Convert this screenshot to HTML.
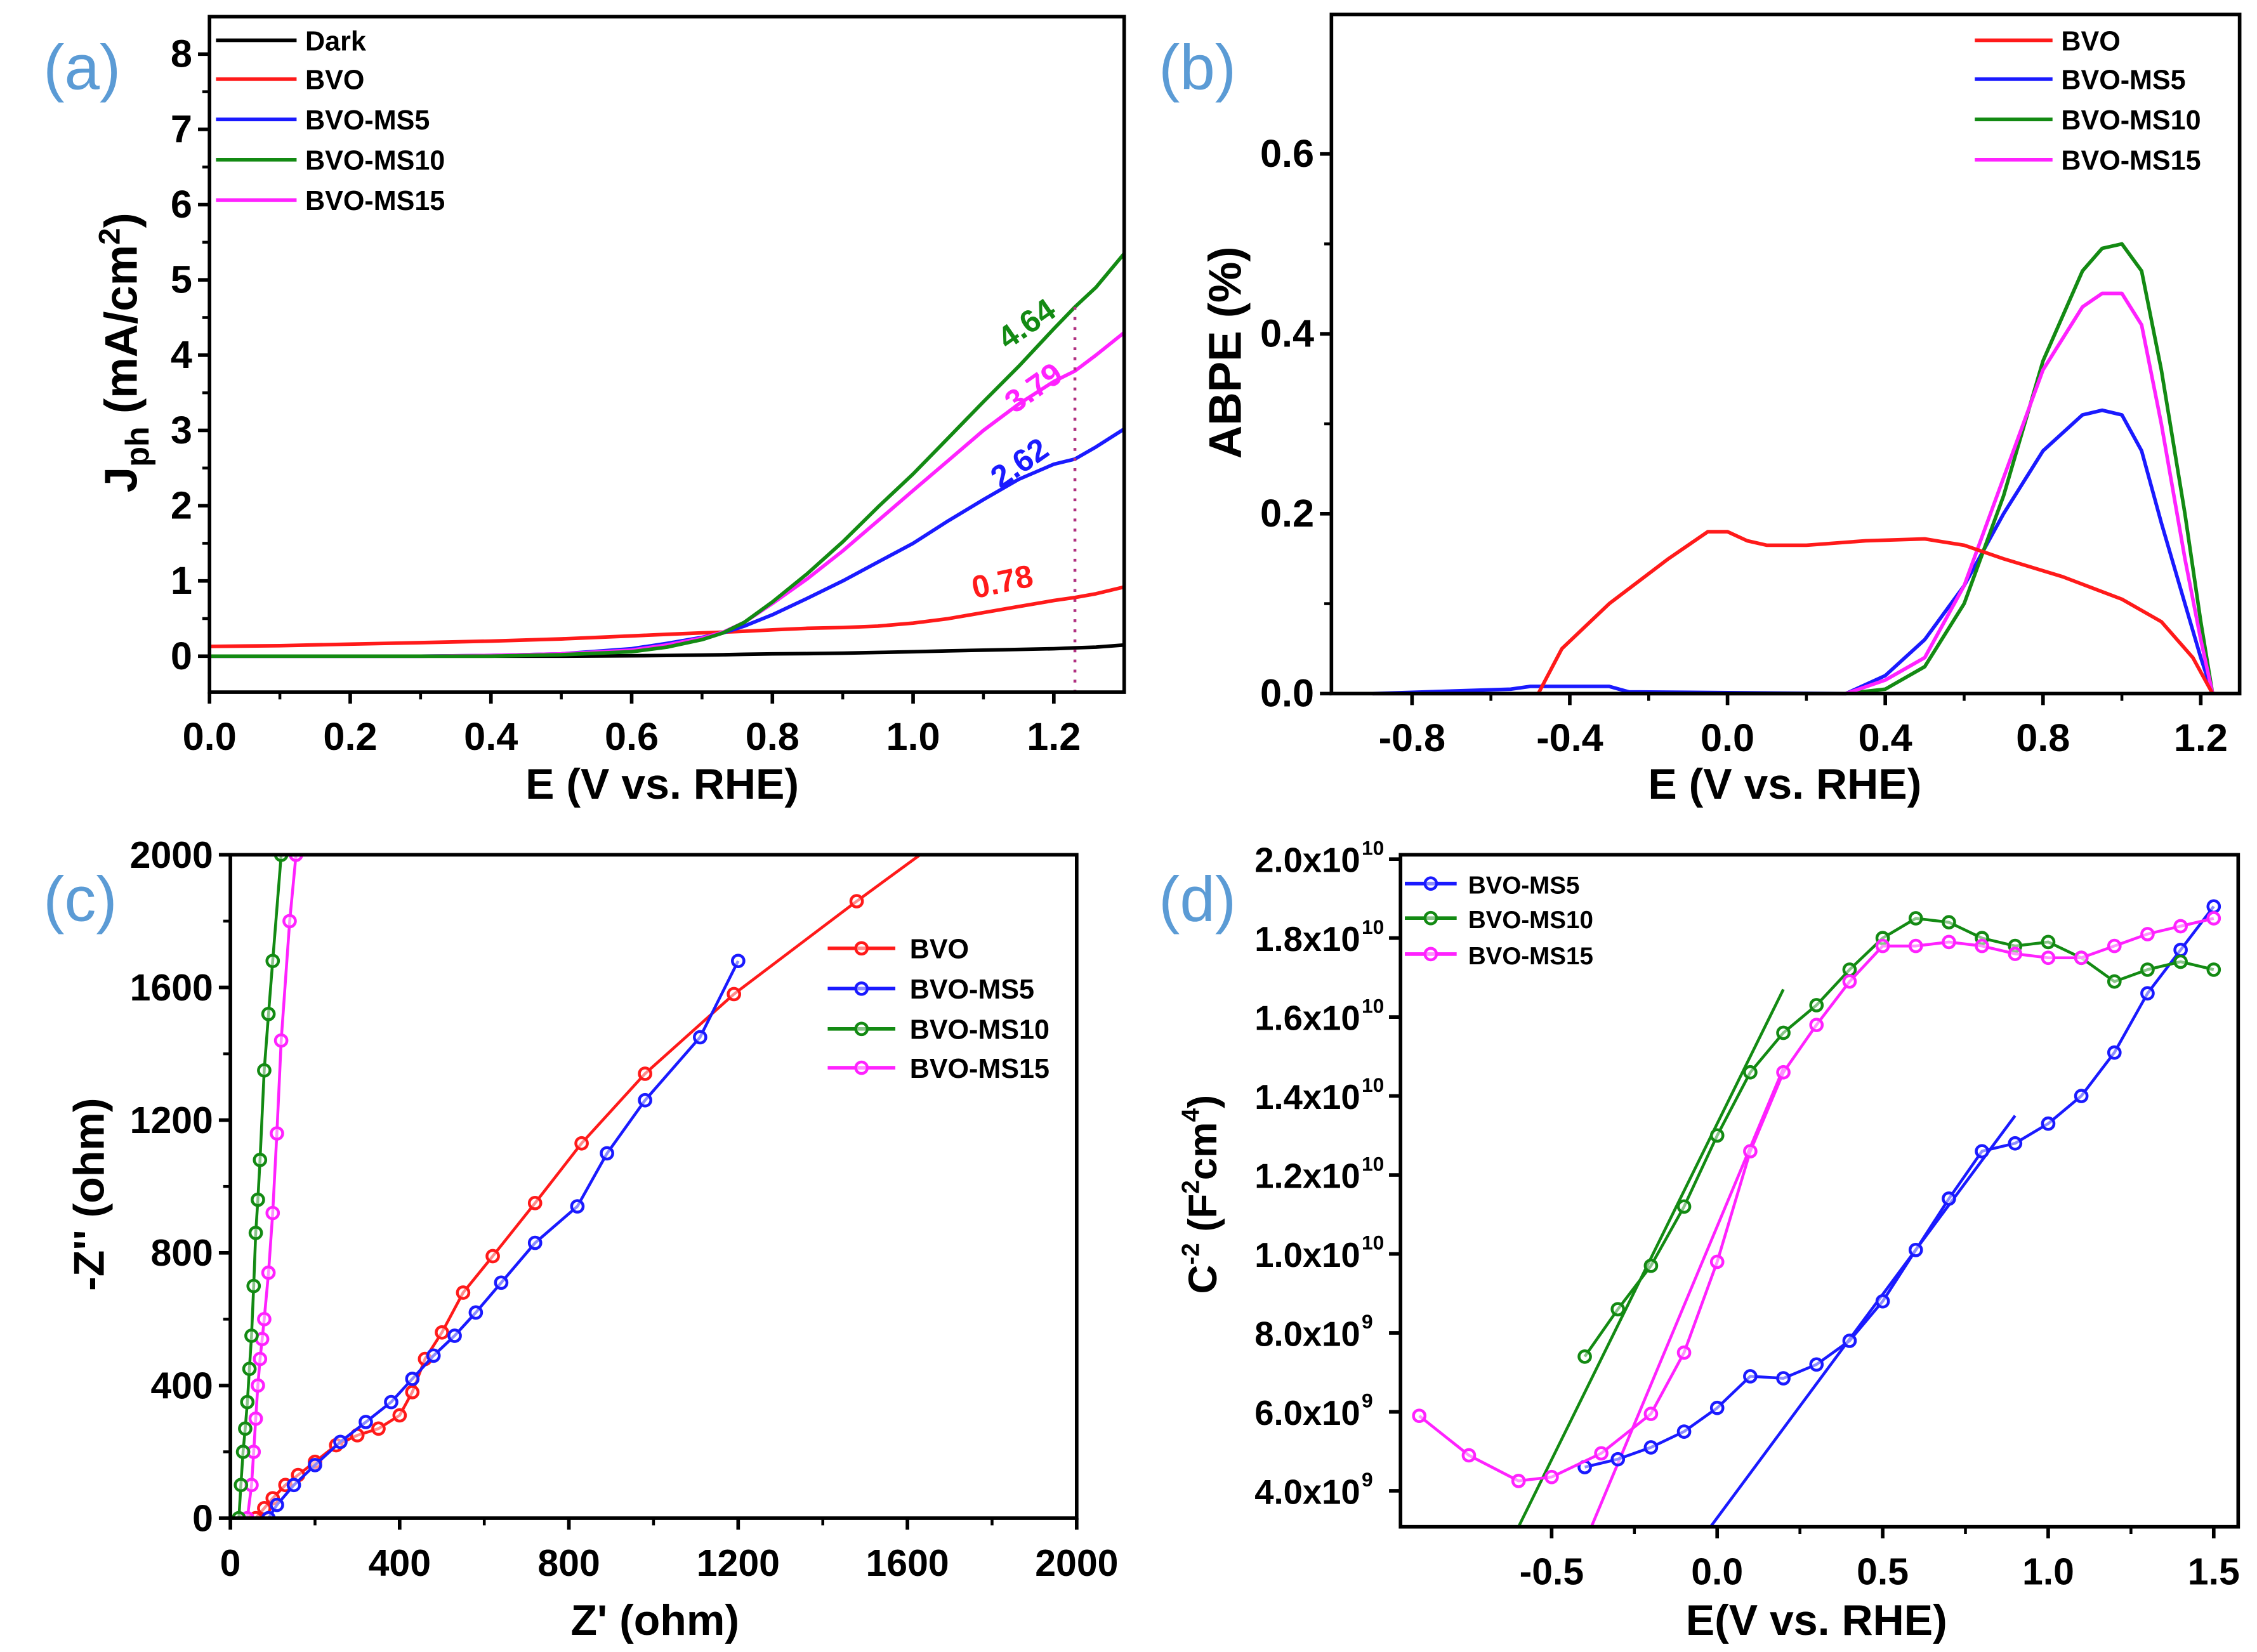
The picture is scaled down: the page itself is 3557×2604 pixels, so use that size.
<!DOCTYPE html>
<html><head><meta charset="utf-8"><style>
html,body{margin:0;padding:0;background:#fff}
svg{display:block}
text{font-family:"Liberation Sans",Arial,sans-serif;font-weight:bold}
</style></head><body>
<svg id="fig" width="3557" height="2604" viewBox="0 0 1568 1148" xmlns="http://www.w3.org/2000/svg"></svg>
<script>
// ---------- Panel (a) data ----------
const aX = [0,0.1,0.2,0.3,0.4,0.5,0.6,0.65,0.7,0.73,0.76,0.8,0.85,0.9,0.95,1.0,1.05,1.1,1.15,1.2,1.23,1.26,1.3];
const aDark = [0,0,0,0,0,0,0.005,0.01,0.015,0.02,0.025,0.03,0.035,0.04,0.05,0.06,0.07,0.08,0.09,0.1,0.11,0.12,0.15];
const aBVO = [0.13,0.14,0.16,0.18,0.2,0.23,0.27,0.29,0.31,0.32,0.33,0.35,0.37,0.38,0.4,0.44,0.5,0.58,0.66,0.74,0.78,0.83,0.92];
const aMS5 = [0,0,0,0,0.01,0.03,0.1,0.17,0.25,0.31,0.4,0.55,0.77,1.0,1.25,1.5,1.8,2.08,2.35,2.55,2.62,2.78,3.02];
const aMS10 = [0,0,0,0,0,0.02,0.06,0.12,0.22,0.31,0.45,0.72,1.1,1.52,1.98,2.42,2.9,3.38,3.85,4.35,4.64,4.9,5.35];
const aMS15 = [0,0,0,0,0.01,0.03,0.08,0.15,0.24,0.32,0.45,0.7,1.03,1.4,1.8,2.2,2.6,3.0,3.35,3.65,3.79,4.0,4.3];
const aYTicks = [0,1,2,3,4,5,6,7,8];
const aXTicks = [0,0.2,0.4,0.6,0.8,1.0,1.2];
// ---------- Panel (b) data ----------
const bBVOx = [-0.48,-0.42,-0.3,-0.15,-0.05,0,0.05,0.1,0.2,0.35,0.5,0.6,0.7,0.85,1.0,1.1,1.18,1.23];
const bBVOy = [0,0.05,0.1,0.15,0.18,0.18,0.17,0.165,0.165,0.17,0.172,0.165,0.15,0.13,0.105,0.08,0.04,0];
const bX = [-0.9,-0.55,-0.5,-0.3,-0.25,0.3,0.4,0.5,0.6,0.7,0.8,0.9,0.95,1.0,1.05,1.1,1.16,1.2,1.23];
const bMS5 = [0,0.005,0.008,0.008,0.002,0,0.02,0.06,0.12,0.2,0.27,0.31,0.315,0.31,0.27,0.19,0.1,0.04,0];
const bMS10 = [0,0,0,0,0,0,0.005,0.03,0.1,0.22,0.37,0.47,0.495,0.5,0.47,0.36,0.2,0.08,0];
const bMS15 = [0,0,0,0,0,0,0.015,0.04,0.12,0.24,0.36,0.43,0.445,0.445,0.41,0.3,0.15,0.06,0];
const bYTicks = [0,0.2,0.4,0.6];
const bXTicks = [-0.8,-0.4,0,0.4,0.8,1.2];
// ---------- Panel (c) data ----------
const cBVOx = [60,80,100,130,160,200,250,300,350,400,430,460,500,550,620,720,830,980,1190,1480];
const cBVOy = [0,30,60,100,130,170,220,250,270,310,380,480,560,680,790,950,1130,1340,1580,1860];
const cMS5x = [90,110,150,200,260,320,380,430,480,530,580,640,720,820,890,980,1110,1200];
const cMS5y = [0,40,100,160,230,290,350,420,490,550,620,710,830,940,1100,1260,1450,1680];
const cMS10x = [20,25,30,35,40,45,50,55,60,65,70,80,90,100,120];
const cMS10y = [0,100,200,270,350,450,550,700,860,960,1080,1350,1520,1680,2000];
const cMS15x = [40,50,55,60,65,70,75,80,90,100,110,120,140,155];
const cMS15y = [0,100,200,300,400,480,540,600,740,920,1160,1440,1800,2000];
const cTicks = [0,400,800,1200,1600,2000];
// ---------- Panel (d) data (y in 1e9) ----------
const dMS5x = [-0.4,-0.3,-0.2,-0.1,0,0.1,0.2,0.3,0.4,0.5,0.6,0.7,0.8,0.9,1.0,1.1,1.2,1.3,1.4,1.5];
const dMS5y = [4.6,4.8,5.1,5.5,6.1,6.9,6.85,7.2,7.8,8.8,10.1,11.4,12.6,12.8,13.3,14.0,15.1,16.6,17.7,18.8];
const dMS10x = [-0.4,-0.3,-0.2,-0.1,0,0.1,0.2,0.3,0.4,0.5,0.6,0.7,0.8,0.9,1.0,1.1,1.2,1.3,1.4,1.5];
const dMS10y = [7.4,8.6,9.7,11.2,13.0,14.6,15.6,16.3,17.2,18.0,18.5,18.4,18.0,17.8,17.9,17.5,16.9,17.2,17.4,17.2];
const dMS15x = [-0.9,-0.75,-0.6,-0.5,-0.35,-0.2,-0.1,0,0.1,0.2,0.3,0.4,0.5,0.6,0.7,0.8,0.9,1.0,1.1,1.2,1.3,1.4,1.5];
const dMS15y = [5.9,4.9,4.25,4.35,4.95,5.95,7.5,9.8,12.6,14.6,15.8,16.9,17.8,17.8,17.9,17.8,17.6,17.5,17.5,17.8,18.1,18.3,18.5];
const dFit10 = [[-0.6,3.09],[0.2,16.7]];
const dFit15 = [[-0.38,3.09],[0.2,14.7]];
const dFit5 = [[-0.02,3.09],[0.9,13.5]];
const dYTicks = [4,6,8,10,12,14,16,18,20];
const dYLabels = ["4.0x10","6.0x10","8.0x10","1.0x10","1.2x10","1.4x10","1.6x10","1.8x10","2.0x10"];
const dYExp = ["9","9","9","10","10","10","10","10","10"];
const dXTicks = [-0.5,0,0.5,1.0,1.5];

const NS = "http://www.w3.org/2000/svg";
const svg = document.getElementById('fig');
function el(tag, attrs, parent, txt){
  const e = document.createElementNS(NS, tag);
  for (const k in attrs) e.setAttribute(k, attrs[k]);
  if (txt !== undefined) e.textContent = txt;
  (parent || svg).appendChild(e);
  return e;
}
function scale(d0,d1,r0,r1){ return v => r0 + (v-d0)/(d1-d0)*(r1-r0); }
const RED="#ff1a1a", BLUE="#1a1aff", GREEN="#138a13", MAG="#ff22ff", DARK="#000";

function frame(g, L,T,R,B){
  const f = el('rect',{x:L,y:T,width:R-L,height:B-T,fill:'none',stroke:'#000','stroke-width':2.5},g);
  
  
}
function line(g, xs, ys, X, Y, color, w, name){
  const d = xs.map((x,i)=>(i?'L':'M')+X(x).toFixed(1)+' '+Y(ys[i]).toFixed(1)).join(' ');
  const p = el('path',{d:d,fill:'none',stroke:color,'stroke-width':w||2.5,'stroke-linejoin':'round'},g);
  
  
  return p;
}
function markers(g, xs, ys, X, Y, color, name){
  xs.forEach((x,i)=>{
    const c = el('circle',{cx:X(x),cy:Y(ys[i]),r:4,fill:'#fff','fill-opacity':0.5,stroke:color,'stroke-width':2},g);
    
    
  });
}
function panelLabel(txt,x,y){
  const t = el('text',{x:x,y:y,'font-size':44,fill:'#5b9bd5','font-weight':'normal'},svg,txt);
  t.style.fontWeight='normal';
  
  
}
function legend(g, items, x0, x1, tx, ys, fs, mark){
  items.forEach((it,i)=>{
    const l = el('line',{x1:x0,x2:x1,y1:ys[i],y2:ys[i],stroke:it[1],'stroke-width':2.5},g);
    
    
    if (mark){
      const c = el('circle',{cx:(x0+x1)/2,cy:ys[i],r:4,fill:'#fff','fill-opacity':0.5,stroke:it[1],'stroke-width':2},g);
      
      
    }
    const t = el('text',{x:tx,y:ys[i]+7,'font-size':fs,fill:'#000'},g,it[0]);
    
    
  });
}
function xTicks(g, ticks, X, B, fmt, fs){
  ticks.forEach(v=>{
    const x = X(v);
    el('line',{x1:x,x2:x,y1:B,y2:B+8,stroke:'#000','stroke-width':2.5},g);
    const t = el('text',{x:x,y:B+40,'font-size':fs,'text-anchor':'middle'},g,fmt(v));
    
    
  });
  for(let i=0;i<ticks.length-1;i++){
    const x = (X(ticks[i])+X(ticks[i+1]))/2;
    el('line',{x1:x,x2:x,y1:B,y2:B+5,stroke:'#000','stroke-width':2},g);
  }
}
function yTicks(g, ticks, Y, L, fmt, fs){
  ticks.forEach(v=>{
    const y = Y(v);
    el('line',{x1:L-8,x2:L,y1:y,y2:y,stroke:'#000','stroke-width':2.5},g);
    const t = el('text',{x:L-12,y:y+9,'font-size':fs,'text-anchor':'end'},g,fmt(v));
    
    
  });
  for(let i=0;i<ticks.length-1;i++){
    const y = (Y(ticks[i])+Y(ticks[i+1]))/2;
    el('line',{x1:L-5,x2:L,y1:y,y2:y,stroke:'#000','stroke-width':2},g);
  }
}
function title(g, txt, x, y, rot, name, fs){
  const t = el('text',{x:x,y:y,'font-size':fs||30,'text-anchor':'middle',transform:rot?`rotate(-90 ${x} ${y})`:''},g,txt);
  
  
  return t;
}

// ===== Panel (a) =====
{
  const g = el('g',{});  
  const L=145.5,R=781,T=11.6,B=481;
  const X = scale(0,1.3,L,R), Y = scale(0,8,456,37.6);
  line(g,aX,aDark,X,Y,DARK,2.5,'series-dark');
  line(g,aX,aBVO,X,Y,RED,2.5,'series-bvo');
  line(g,aX,aMS5,X,Y,BLUE,2.5,'series-bvo-ms5');
  line(g,aX,aMS15,X,Y,MAG,2.5,'series-bvo-ms15');
  line(g,aX,aMS10,X,Y,GREEN,2.5,'series-bvo-ms10');
  const v = el('line',{x1:X(1.23),x2:X(1.23),y1:Y(4.64),y2:B,stroke:'#b03080','stroke-width':2,'stroke-dasharray':'2 5'},g);
   
  const ann=[['4.64',GREEN,1.17,4.3],['3.79',MAG,1.18,3.45],['2.62',BLUE,1.16,2.45],['0.78',RED,1.13,0.85]];
  ann.forEach(a=>{
    const t = el('text',{x:X(a[2]),y:Y(a[3]),'font-size':22,fill:a[1],'text-anchor':'middle',transform:`rotate(-${a[0]==='0.78'?12:35} ${X(a[2])} ${Y(a[3])})`},g,a[0]);
     
  });
  frame(g,L,T,R,B);
  xTicks(g,aXTicks,X,B,v=>v.toFixed(1),27);
  yTicks(g,aYTicks,Y,L,v=>String(v),27);
  legend(g,[['Dark',DARK],['BVO',RED],['BVO-MS5',BLUE],['BVO-MS10',GREEN],['BVO-MS15',MAG]],150,206,212,[28,55,83,111,139],19);
  title(g,'E (V vs. RHE)',460,555,false,'x-axis-title-a');
  const yt = el('text',{x:95,y:245,'font-size':32,'text-anchor':'middle',transform:'rotate(-90 95 245)'},g);
   
  el('tspan',{},yt,'J');
  el('tspan',{'font-size':23,dy:8},yt,'ph');
  el('tspan',{dy:-8},yt,' (mA/cm');
  el('tspan',{'font-size':21,dy:-12},yt,'2');
  el('tspan',{dy:12},yt,')');
}
// ===== Panel (b) =====
{
  const g = el('g',{});  
  const L=925,R=1556,T=10,B=482;
  const X = scale(-0.8,1.2,981,1529), Y = scale(0,0.2,482,357);
  line(g,bX,bMS5,X,Y,BLUE,2.5,'series-bvo-ms5');
  line(g,bX,bMS10,X,Y,GREEN,2.5,'series-bvo-ms10');
  line(g,bX,bMS15,X,Y,MAG,2.5,'series-bvo-ms15');
  line(g,bBVOx,bBVOy,X,Y,RED,2.5,'series-bvo');
  frame(g,L,T,R,B);
  xTicks(g,bXTicks,X,B,v=>v.toFixed(1),27);
  yTicks(g,bYTicks,Y,L,v=>v.toFixed(1),27);
  legend(g,[['BVO',RED],['BVO-MS5',BLUE],['BVO-MS10',GREEN],['BVO-MS15',MAG]],1372,1426,1432,[28,55,83,111],19);
  title(g,'E (V vs. RHE)',1240,555,false,'x-axis-title-b');
  title(g,'ABPE (%)',862,245,true,'y-axis-title-b',32);
}
// ===== Panel (c) =====
{
  const g = el('g',{});  
  const L=160,R=748,T=594,B=1055;
  const X = scale(0,2000,L,R), Y = scale(0,2000,B,T);
  const clip = el('clipPath',{id:'clipc'},g); el('rect',{x:L,y:T,width:R-L,height:B-T},clip);
  const inner = el('g',{'clip-path':'url(#clipc)'},g);
  line(inner,cBVOx.concat([1630]),cBVOy.concat([2000]),X,Y,RED,2,'series-bvo');
  markers(inner,cBVOx,cBVOy,X,Y,RED,'point-bvo');
  line(inner,cMS5x,cMS5y,X,Y,BLUE,2,'series-bvo-ms5');
  markers(inner,cMS5x,cMS5y,X,Y,BLUE,'point-bvo-ms5');
  line(inner,cMS15x,cMS15y,X,Y,MAG,2,'series-bvo-ms15');
  markers(inner,cMS15x,cMS15y,X,Y,MAG,'point-bvo-ms15');
  line(inner,cMS10x,cMS10y,X,Y,GREEN,2,'series-bvo-ms10');
  markers(inner,cMS10x,cMS10y,X,Y,GREEN,'point-bvo-ms10');
  frame(g,L,T,R,B);
  xTicks(g,cTicks,X,B,v=>String(v),26);
  yTicks(g,cTicks,Y,L,v=>String(v),26);
  legend(g,[['BVO',RED],['BVO-MS5',BLUE],['BVO-MS10',GREEN],['BVO-MS15',MAG]],575,622,632,[659,687,715,742],19,true);
  title(g,"Z' (ohm)",455,1136,false,'x-axis-title-c',30);
  title(g,"-Z'' (ohm)",72,830,true,'y-axis-title-c',30);
}
// ===== Panel (d) =====
{
  const g = el('g',{});  
  const L=973,R=1555,T=594,B=1061;
  const X = scale(0,0.5,1193,1308), Y = scale(4,20,1036,597);
  const clip = el('clipPath',{id:'clipd'},g); el('rect',{x:L,y:T,width:R-L,height:B-T},clip);
  const inner = el('g',{'clip-path':'url(#clipd)'},g);
  line(inner,dFit10.map(p=>p[0]),dFit10.map(p=>p[1]),X,Y,GREEN,2,'fit-line-ms10');
  line(inner,dFit15.map(p=>p[0]),dFit15.map(p=>p[1]),X,Y,MAG,2,'fit-line-ms15');
  line(inner,dFit5.map(p=>p[0]),dFit5.map(p=>p[1]),X,Y,BLUE,2,'fit-line-ms5');
  line(inner,dMS5x,dMS5y,X,Y,BLUE,2,'series-bvo-ms5');
  markers(inner,dMS5x,dMS5y,X,Y,BLUE,'point-bvo-ms5');
  line(inner,dMS10x,dMS10y,X,Y,GREEN,2,'series-bvo-ms10');
  markers(inner,dMS10x,dMS10y,X,Y,GREEN,'point-bvo-ms10');
  line(inner,dMS15x,dMS15y,X,Y,MAG,2,'series-bvo-ms15');
  markers(inner,dMS15x,dMS15y,X,Y,MAG,'point-bvo-ms15');
  frame(g,L,T,R,B);
  xTicks(g,dXTicks,X,B,v=>v.toFixed(1),26);
  dYTicks.forEach((v,i)=>{
    const y = Y(v);
    el('line',{x1:L-8,x2:L,y1:y,y2:y,stroke:'#000','stroke-width':2.5},g);
    const t = el('text',{x:L-28,y:y+9,'font-size':24,'text-anchor':'end'},g,dYLabels[i]);
    
    
    const e = el('text',{x:L-27,y:y-3,'font-size':14,'text-anchor':'start'},g,dYExp[i]);
    
    
  });
  legend(g,[['BVO-MS5',BLUE],['BVO-MS10',GREEN],['BVO-MS15',MAG]],976,1012,1020,[614,638,663],17,true);
  title(g,'E(V vs. RHE)',1262,1136,false,'x-axis-title-d',30);
  const yt = el('text',{x:845,y:830,'font-size':28,'text-anchor':'middle',transform:'rotate(-90 845 830)'},g);
   
  el('tspan',{},yt,'C');
  el('tspan',{'font-size':17,dy:-12},yt,'-2');
  el('tspan',{dy:12},yt,' (F');
  el('tspan',{'font-size':17,dy:-12},yt,'2');
  el('tspan',{dy:12},yt,'cm');
  el('tspan',{'font-size':17,dy:-12},yt,'4');
  el('tspan',{dy:12},yt,')');
}
panelLabel('(a)',30,62);
panelLabel('(b)',805,62);
panelLabel('(c)',30,640);
panelLabel('(d)',805,640);
</script>
</body></html>
